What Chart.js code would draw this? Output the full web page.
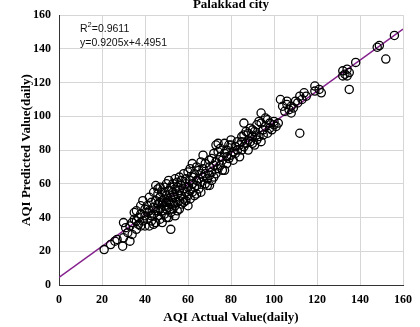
<!DOCTYPE html>
<html>
<head>
<meta charset="utf-8">
<script src="https://cdn.jsdelivr.net/npm/chart.js@4.4.0/dist/chart.umd.min.js"></script>
<style>
  body { margin: 0; background: #fff; }
  #wrap { width: 420px; height: 327px; }
</style>
</head>
<body>
<div id="wrap"><canvas id="myChart" width="420" height="327"></canvas></div>
<script>
// values (actual, predicted)
const actualVals = [
  21,24,26,27,29.6,30,31,30,32,33,33,34,35,35,34,
  36,36,37,37,38,38,39,39,40,40,40,41,41,42,42,42,43,43,43,44,44,44,45,45,45,45,36,38,41,44,
  46,46,46,46,47,47,47,47,48,48,48,48,48,49,49,49,49,50,50,50,50,50,51,51,51,51,52,52,52,52,53,53,53,53,54,54,54,54,55,55,55,55,46,47,49,51,52,53,54,55,
  56,56,56,56,57,57,57,57,58,58,58,58,59,59,59,59,60,60,60,60,61,61,61,61,62,62,62,62,63,63,63,64,64,64,64,65,65,65,66,66,66,66,67,67,67,68,68,68,69,69,70,70,70,70,
  71,71,71,72,72,72,73,73,73,74,74,74,75,75,75,76,76,77,77,77,78,78,78,79,79,80,80,80,81,81,82,82,83,83,84,84,85,85,85,86,
  86,86,87,87,88,88,88,89,89,90,90,90,91,91,92,92,92,93,93,94,94,94,95,95,96,96,97,97,98,98,99,100,100,101,102,
  103,104,105,106,106,107,108,108,109,110,111,112,112,113,114,115,119,119,121,122,
  132,132,133,134,135,134,135,138,148,149,152,156
];
const predictedVals = [
  21,24,26,27,23,28,34,37,31,26,35,30,39,43,37,
  44,33,40,36,47,42,38,50,45,41,35,47,39,52,44,35,49,41,38,55,46,42,59,50,44,37,38,35,43,36,
  54,48,41,57,58,52,45,39,48,50,44,37,55,47,51,42,58,49,53,45,40,60,62,50,46,56,33,48,52,43,55,49,60,45,52,57,47,41,61,54,49,44,44,49,55,40,58,52,63,58,
  56,50,64,45,59,53,62,48,66,57,51,49,50,60,55,63,58,53,67,47,62,56,69,51,72,60,55,64,58,66,53,54,62,70,59,68,63,57,73,61,66,55,77,64,69,60,72,66,63,59,70,65,59,74,
  67,75,62,71,78,64,83,66,73,69,79,84,76,71,81,74,68,78,84,68,72,80,76,83,75,77,83,86,79,74,82,78,85,80,76,83,85,80,88,96,
  82,89,84,91,86,90,80,85,93,88,92,84,91,83,95,89,86,88,97,96,102,85,92,89,94,99,98,90,93,96,92,95,97,94,96,
  110,106,103,107,109,104,106,102,105,109,108,112,90,110,114,112,115,118,116,114,
  124,127,125,128,126,124,116,132,141,142,134,148
];
const tickVals = [0, 20, 40, 60, 80, 100, 120, 140, 160];
const fitCoef = [0.9205, 4.4951];   // slope, intercept
const fitRange = [0, 160];

const titleText = "Palakkad city";
const xTitle = "AQI Actual Value(daily)";
const yTitle = "AQI Predicted Value(daily)";
const statLines = ["R", "2", "=0.9611", "y=0.9205x+4.4951"];

const points = actualVals.map((x, i) => ({ x: x, y: predictedVals[i] }));
const fitLine = fitRange.map(x => ({ x: x, y: fitCoef[0] * x + fitCoef[1] }));

const serif = "'Liberation Serif', 'Times New Roman', serif";
const sans = "'Liberation Sans', Arial, sans-serif";

const textPlugin = {
  id: "textPlugin",
  afterDraw(c) {
    const ctx = c.ctx;
    const a = c.chartArea;
    const cx = (a.left + a.right) / 2;
    ctx.save();
    ctx.fillStyle = "#000";
    // title (top is cut off in the original)
    ctx.font = "bold 13px " + serif;
    ctx.textAlign = "center";
    ctx.textBaseline = "alphabetic";
    ctx.fillText(titleText, cx, 8);
    // x axis title
    ctx.textBaseline = "middle";
    ctx.fillText(xTitle, cx, 318);
    // y axis title
    ctx.translate(27, (a.top + a.bottom) / 2);
    ctx.rotate(-Math.PI / 2);
    ctx.fillText(yTitle, 0, 0);
    ctx.restore();
    // fit stats, R with a raised small 2
    ctx.save();
    ctx.fillStyle = "#111";
    ctx.textAlign = "left";
    ctx.textBaseline = "alphabetic";
    ctx.font = "10.5px " + sans;
    let x = 80;
    ctx.fillText(statLines[0], x, 32);
    x += ctx.measureText(statLines[0]).width;
    ctx.font = "7.5px " + sans;
    ctx.fillText(statLines[1], x, 27);
    x += ctx.measureText(statLines[1]).width;
    ctx.font = "10.5px " + sans;
    ctx.fillText(statLines[2], x, 32);
    ctx.fillText(statLines[3], 80, 46);
    ctx.restore();
  }
};

const config = {
  type: "scatter",
  data: {
    datasets: [
      {
        type: "line",
        data: fitLine,
        borderColor: "#84208c",
        borderWidth: 1.5,
        pointRadius: 0,
        fill: false,
        order: 2
      },
      {
        data: points,
        borderColor: "#000",
        backgroundColor: "rgba(0,0,0,0)",
        borderWidth: 1.3,
        pointRadius: 4.1,
        order: 1
      }
    ]
  },
  options: {
    responsive: false,
    animation: false,
    layout: { padding: { left: 0, top: 15, right: 14, bottom: 0 } },
    plugins: { legend: { display: false }, tooltip: { enabled: false } },
    scales: {
      x: {
        type: "linear",
        min: 0, max: 160,
        afterBuildTicks: s => { s.ticks = tickVals.map(v => ({ value: v })); },
        afterFit: s => { s.height = 42; },
        grid: { color: "#d6d6d6", drawTicks: false },
        border: { color: "#333", width: 1 },
        ticks: { color: "#000", padding: 8, font: { family: serif, weight: "bold", size: 12 } }
      },
      y: {
        type: "linear",
        min: 0, max: 160,
        afterBuildTicks: s => { s.ticks = tickVals.map(v => ({ value: v })); },
        afterFit: s => { s.width = 59; },
        grid: { color: "#d6d6d6", drawTicks: false },
        border: { color: "#333", width: 1 },
        ticks: { color: "#000", padding: 8, font: { family: serif, weight: "bold", size: 12 } }
      }
    }
  },
  plugins: [textPlugin]
};

let chart;
window.onload = function () {
  chart = new Chart(document.getElementById("myChart"), config);
};
</script>
</body>
</html>
